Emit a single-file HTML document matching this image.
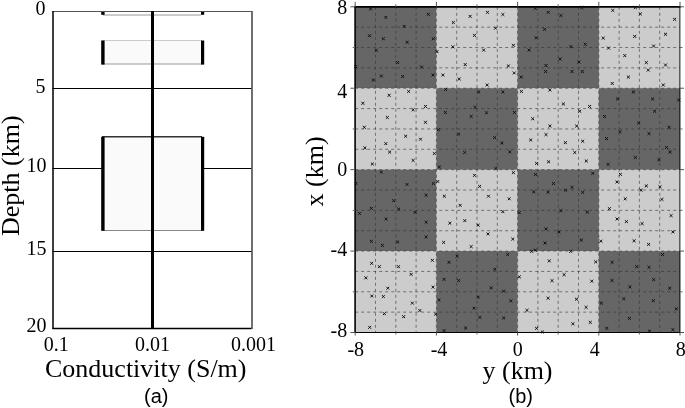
<!DOCTYPE html>
<html><head><meta charset="utf-8"><style>
html,body{margin:0;padding:0;background:#fff;width:685px;height:408px;overflow:hidden}
svg{display:block;will-change:transform}
.s20{font-family:"Liberation Serif",serif;font-size:20px;fill:#000}
.s26{font-family:"Liberation Serif",serif;font-size:26px;fill:#000}
.ss20{font-family:"Liberation Sans",sans-serif;font-size:20px;fill:#000}
</style></head><body>
<svg width="685" height="408" viewBox="0 0 685 408">
<line x1="52.5" y1="88.5" x2="251.5" y2="88.5" stroke="#000" stroke-width="1"/>
<line x1="52.5" y1="168.5" x2="251.5" y2="168.5" stroke="#000" stroke-width="1"/>
<line x1="52.5" y1="251.5" x2="251.5" y2="251.5" stroke="#000" stroke-width="1"/>
<line x1="103" y1="14.9" x2="201" y2="14.9" stroke="#bbb" stroke-width="1.5"/>
<rect x="102" y="40.5" width="100" height="23.5" fill="#fafafa" stroke="none"/>
<line x1="102" y1="40.5" x2="202" y2="40.5" stroke="#ccc" stroke-width="1"/>
<line x1="102" y1="64" x2="202" y2="64" stroke="#999" stroke-width="1"/>
<rect x="102" y="136.5" width="100" height="94" fill="#fafafa" stroke="none"/>
<line x1="102" y1="136.8" x2="202" y2="136.8" stroke="#333" stroke-width="1.5"/>
<line x1="102" y1="230.5" x2="202" y2="230.5" stroke="#888" stroke-width="1"/>
<rect x="101.2" y="11" width="3.4" height="3.8" fill="#000"/>
<rect x="201" y="11" width="3.2" height="3.8" fill="#000"/>
<rect x="101.2" y="40.5" width="3.4" height="24.1" fill="#000"/>
<rect x="201" y="40.5" width="3.2" height="24.1" fill="#000"/>
<rect x="101.2" y="136.8" width="3.4" height="94.0" fill="#000"/>
<rect x="201" y="136.8" width="3.2" height="94.0" fill="#000"/>
<line x1="52.5" y1="11.5" x2="251.5" y2="11.5" stroke="#555" stroke-width="1.1"/>
<line x1="52.5" y1="328.5" x2="251.5" y2="328.5" stroke="#000" stroke-width="1.3"/>
<line x1="53.0" y1="11.0" x2="53.0" y2="329.0" stroke="#000" stroke-width="1.5"/>
<line x1="252" y1="11.0" x2="252" y2="329.0" stroke="#333" stroke-width="1.4"/>
<rect x="151" y="11" width="3" height="318" fill="#000"/>
<text x="45.5" y="15.4" text-anchor="end" class="s20">0</text>
<text x="45.5" y="93" text-anchor="end" class="s20">5</text>
<text x="46.5" y="172" text-anchor="end" class="s20">10</text>
<text x="46.5" y="255" text-anchor="end" class="s20">15</text>
<text x="46.5" y="331.5" text-anchor="end" class="s20">20</text>
<text x="56.3" y="350.5" text-anchor="middle" class="s20">0.1</text>
<text x="152.4" y="350.5" text-anchor="middle" class="s20">0.01</text>
<text x="253.6" y="350.5" text-anchor="middle" class="s20">0.001</text>
<text x="45" y="377" class="s26">Conductivity (S/m)</text>
<text x="156.3" y="402.6" text-anchor="middle" class="ss20">(a)</text>
<text transform="translate(18.9,236) rotate(-90)" class="s26">Depth (km)</text>
<rect x="355.20" y="6.80" width="81.50" height="81.72" fill="#666"/>
<rect x="436.40" y="6.80" width="81.50" height="81.72" fill="#ccc"/>
<rect x="517.60" y="6.80" width="81.50" height="81.72" fill="#666"/>
<rect x="598.80" y="6.80" width="81.50" height="81.72" fill="#ccc"/>
<rect x="355.20" y="88.22" width="81.50" height="81.72" fill="#ccc"/>
<rect x="436.40" y="88.22" width="81.50" height="81.72" fill="#666"/>
<rect x="517.60" y="88.22" width="81.50" height="81.72" fill="#ccc"/>
<rect x="598.80" y="88.22" width="81.50" height="81.72" fill="#666"/>
<rect x="355.20" y="169.65" width="81.50" height="81.72" fill="#666"/>
<rect x="436.40" y="169.65" width="81.50" height="81.72" fill="#ccc"/>
<rect x="517.60" y="169.65" width="81.50" height="81.72" fill="#666"/>
<rect x="598.80" y="169.65" width="81.50" height="81.72" fill="#ccc"/>
<rect x="355.20" y="251.07" width="81.50" height="81.72" fill="#ccc"/>
<rect x="436.40" y="251.07" width="81.50" height="81.72" fill="#666"/>
<rect x="517.60" y="251.07" width="81.50" height="81.72" fill="#ccc"/>
<rect x="598.80" y="251.07" width="81.50" height="81.72" fill="#666"/>
<line x1="375.50" y1="6.8" x2="375.50" y2="332.5" stroke="#333" stroke-opacity="0.6" stroke-width="1" stroke-dasharray="3,3"/>
<line x1="355.2" y1="27.16" x2="680" y2="27.16" stroke="#333" stroke-opacity="0.6" stroke-width="1" stroke-dasharray="3,3"/>
<line x1="395.80" y1="6.8" x2="395.80" y2="332.5" stroke="#333" stroke-opacity="0.6" stroke-width="1" stroke-dasharray="3,3"/>
<line x1="355.2" y1="47.51" x2="680" y2="47.51" stroke="#333" stroke-opacity="0.6" stroke-width="1" stroke-dasharray="3,3"/>
<line x1="416.10" y1="6.8" x2="416.10" y2="332.5" stroke="#333" stroke-opacity="0.6" stroke-width="1" stroke-dasharray="3,3"/>
<line x1="355.2" y1="67.87" x2="680" y2="67.87" stroke="#333" stroke-opacity="0.6" stroke-width="1" stroke-dasharray="3,3"/>
<line x1="436.40" y1="6.8" x2="436.40" y2="332.5" stroke="#333" stroke-opacity="0.6" stroke-width="1" stroke-dasharray="3,3"/>
<line x1="355.2" y1="88.22" x2="680" y2="88.22" stroke="#333" stroke-opacity="0.6" stroke-width="1" stroke-dasharray="3,3"/>
<line x1="456.70" y1="6.8" x2="456.70" y2="332.5" stroke="#333" stroke-opacity="0.6" stroke-width="1" stroke-dasharray="3,3"/>
<line x1="355.2" y1="108.58" x2="680" y2="108.58" stroke="#333" stroke-opacity="0.6" stroke-width="1" stroke-dasharray="3,3"/>
<line x1="477.00" y1="6.8" x2="477.00" y2="332.5" stroke="#333" stroke-opacity="0.6" stroke-width="1" stroke-dasharray="3,3"/>
<line x1="355.2" y1="128.94" x2="680" y2="128.94" stroke="#333" stroke-opacity="0.6" stroke-width="1" stroke-dasharray="3,3"/>
<line x1="497.30" y1="6.8" x2="497.30" y2="332.5" stroke="#333" stroke-opacity="0.6" stroke-width="1" stroke-dasharray="3,3"/>
<line x1="355.2" y1="149.29" x2="680" y2="149.29" stroke="#333" stroke-opacity="0.6" stroke-width="1" stroke-dasharray="3,3"/>
<line x1="517.60" y1="6.8" x2="517.60" y2="332.5" stroke="#333" stroke-opacity="0.6" stroke-width="1" stroke-dasharray="3,3"/>
<line x1="355.2" y1="169.65" x2="680" y2="169.65" stroke="#333" stroke-opacity="0.6" stroke-width="1" stroke-dasharray="3,3"/>
<line x1="537.90" y1="6.8" x2="537.90" y2="332.5" stroke="#333" stroke-opacity="0.6" stroke-width="1" stroke-dasharray="3,3"/>
<line x1="355.2" y1="190.01" x2="680" y2="190.01" stroke="#333" stroke-opacity="0.6" stroke-width="1" stroke-dasharray="3,3"/>
<line x1="558.20" y1="6.8" x2="558.20" y2="332.5" stroke="#333" stroke-opacity="0.6" stroke-width="1" stroke-dasharray="3,3"/>
<line x1="355.2" y1="210.36" x2="680" y2="210.36" stroke="#333" stroke-opacity="0.6" stroke-width="1" stroke-dasharray="3,3"/>
<line x1="578.50" y1="6.8" x2="578.50" y2="332.5" stroke="#333" stroke-opacity="0.6" stroke-width="1" stroke-dasharray="3,3"/>
<line x1="355.2" y1="230.72" x2="680" y2="230.72" stroke="#333" stroke-opacity="0.6" stroke-width="1" stroke-dasharray="3,3"/>
<line x1="598.80" y1="6.8" x2="598.80" y2="332.5" stroke="#333" stroke-opacity="0.6" stroke-width="1" stroke-dasharray="3,3"/>
<line x1="355.2" y1="251.07" x2="680" y2="251.07" stroke="#333" stroke-opacity="0.6" stroke-width="1" stroke-dasharray="3,3"/>
<line x1="619.10" y1="6.8" x2="619.10" y2="332.5" stroke="#333" stroke-opacity="0.6" stroke-width="1" stroke-dasharray="3,3"/>
<line x1="355.2" y1="271.43" x2="680" y2="271.43" stroke="#333" stroke-opacity="0.6" stroke-width="1" stroke-dasharray="3,3"/>
<line x1="639.40" y1="6.8" x2="639.40" y2="332.5" stroke="#333" stroke-opacity="0.6" stroke-width="1" stroke-dasharray="3,3"/>
<line x1="355.2" y1="291.79" x2="680" y2="291.79" stroke="#333" stroke-opacity="0.6" stroke-width="1" stroke-dasharray="3,3"/>
<line x1="659.70" y1="6.8" x2="659.70" y2="332.5" stroke="#333" stroke-opacity="0.6" stroke-width="1" stroke-dasharray="3,3"/>
<line x1="355.2" y1="312.14" x2="680" y2="312.14" stroke="#333" stroke-opacity="0.6" stroke-width="1" stroke-dasharray="3,3"/>
<line x1="354.4" y1="6.9" x2="680.6" y2="6.9" stroke="#000" stroke-width="1.6"/>
<line x1="354.4" y1="332.5" x2="680.6" y2="332.5" stroke="#000" stroke-width="1.2"/>
<line x1="355.1" y1="6.1" x2="355.1" y2="333.1" stroke="#000" stroke-width="1.6"/>
<line x1="679.8" y1="6.1" x2="679.8" y2="333.1" stroke="#000" stroke-opacity="0.65" stroke-width="1.3"/>
<line x1="355.20" y1="1.7999999999999998" x2="355.20" y2="6.8" stroke="#555" stroke-width="1"/>
<line x1="355.20" y1="332.5" x2="355.20" y2="335.5" stroke="#555" stroke-width="1"/>
<line x1="350.4" y1="6.80" x2="355.2" y2="6.80" stroke="#555" stroke-width="1"/>
<line x1="680" y1="6.80" x2="684" y2="6.80" stroke="#555" stroke-width="1"/>
<line x1="436.40" y1="1.7999999999999998" x2="436.40" y2="6.8" stroke="#555" stroke-width="1"/>
<line x1="436.40" y1="332.5" x2="436.40" y2="335.5" stroke="#555" stroke-width="1"/>
<line x1="350.4" y1="88.22" x2="355.2" y2="88.22" stroke="#555" stroke-width="1"/>
<line x1="680" y1="88.22" x2="684" y2="88.22" stroke="#555" stroke-width="1"/>
<line x1="517.60" y1="1.7999999999999998" x2="517.60" y2="6.8" stroke="#555" stroke-width="1"/>
<line x1="517.60" y1="332.5" x2="517.60" y2="335.5" stroke="#555" stroke-width="1"/>
<line x1="350.4" y1="169.65" x2="355.2" y2="169.65" stroke="#555" stroke-width="1"/>
<line x1="680" y1="169.65" x2="684" y2="169.65" stroke="#555" stroke-width="1"/>
<line x1="598.80" y1="1.7999999999999998" x2="598.80" y2="6.8" stroke="#555" stroke-width="1"/>
<line x1="598.80" y1="332.5" x2="598.80" y2="335.5" stroke="#555" stroke-width="1"/>
<line x1="350.4" y1="251.07" x2="355.2" y2="251.07" stroke="#555" stroke-width="1"/>
<line x1="680" y1="251.07" x2="684" y2="251.07" stroke="#555" stroke-width="1"/>
<line x1="680.00" y1="1.7999999999999998" x2="680.00" y2="6.8" stroke="#555" stroke-width="1"/>
<line x1="680.00" y1="332.5" x2="680.00" y2="335.5" stroke="#555" stroke-width="1"/>
<line x1="350.4" y1="332.50" x2="355.2" y2="332.50" stroke="#555" stroke-width="1"/>
<line x1="680" y1="332.50" x2="684" y2="332.50" stroke="#555" stroke-width="1"/>
<line x1="395.80" y1="4.3" x2="395.80" y2="6.8" stroke="#666" stroke-width="1"/>
<line x1="395.80" y1="332.5" x2="395.80" y2="334.5" stroke="#666" stroke-width="1"/>
<line x1="352.7" y1="47.51" x2="355.2" y2="47.51" stroke="#666" stroke-width="1"/>
<line x1="680" y1="47.51" x2="682.5" y2="47.51" stroke="#666" stroke-width="1"/>
<line x1="477.00" y1="4.3" x2="477.00" y2="6.8" stroke="#666" stroke-width="1"/>
<line x1="477.00" y1="332.5" x2="477.00" y2="334.5" stroke="#666" stroke-width="1"/>
<line x1="352.7" y1="128.94" x2="355.2" y2="128.94" stroke="#666" stroke-width="1"/>
<line x1="680" y1="128.94" x2="682.5" y2="128.94" stroke="#666" stroke-width="1"/>
<line x1="558.20" y1="4.3" x2="558.20" y2="6.8" stroke="#666" stroke-width="1"/>
<line x1="558.20" y1="332.5" x2="558.20" y2="334.5" stroke="#666" stroke-width="1"/>
<line x1="352.7" y1="210.36" x2="355.2" y2="210.36" stroke="#666" stroke-width="1"/>
<line x1="680" y1="210.36" x2="682.5" y2="210.36" stroke="#666" stroke-width="1"/>
<line x1="639.40" y1="4.3" x2="639.40" y2="6.8" stroke="#666" stroke-width="1"/>
<line x1="639.40" y1="332.5" x2="639.40" y2="334.5" stroke="#666" stroke-width="1"/>
<line x1="352.7" y1="291.79" x2="355.2" y2="291.79" stroke="#666" stroke-width="1"/>
<line x1="680" y1="291.79" x2="682.5" y2="291.79" stroke="#666" stroke-width="1"/>
<path d="M369.1 7.5L371.9 10.4M369.1 10.4L371.9 7.5" stroke="#111" stroke-width="1.0"/>
<path d="M384.4 15.9L387.2 18.8M384.4 18.8L387.2 15.9" stroke="#111" stroke-width="1.0"/>
<path d="M426.9 12.9L429.8 15.8M426.9 15.8L429.8 12.9" stroke="#111" stroke-width="1.0"/>
<path d="M402.8 24.9L405.6 27.8M402.8 27.8L405.6 24.9" stroke="#111" stroke-width="1.0"/>
<path d="M368.1 34.3L370.9 37.2M368.1 37.2L370.9 34.3" stroke="#111" stroke-width="1.0"/>
<path d="M381.9 37.2L384.8 40.2M381.9 40.2L384.8 37.2" stroke="#111" stroke-width="1.0"/>
<path d="M405.8 40.8L408.6 43.8M405.8 43.8L408.6 40.8" stroke="#111" stroke-width="1.0"/>
<path d="M431.9 37.2L434.8 40.2M431.9 40.2L434.8 37.2" stroke="#111" stroke-width="1.0"/>
<path d="M374.8 48.8L377.6 51.8M374.8 51.8L377.6 48.8" stroke="#111" stroke-width="1.0"/>
<path d="M396.2 61.1L399.1 64.0M396.2 64.0L399.1 61.1" stroke="#111" stroke-width="1.0"/>
<path d="M420.1 65.6L422.9 68.5M420.1 68.5L422.9 65.6" stroke="#111" stroke-width="1.0"/>
<path d="M354.2 65.2L357.1 68.2M354.2 68.2L357.1 65.2" stroke="#111" stroke-width="1.0"/>
<path d="M379.9 74.6L382.8 77.5M379.9 77.5L382.8 74.6" stroke="#111" stroke-width="1.0"/>
<path d="M401.2 75.0L404.1 78.0M401.2 78.0L404.1 75.0" stroke="#111" stroke-width="1.0"/>
<path d="M431.6 73.5L434.4 76.4M431.6 76.4L434.4 73.5" stroke="#111" stroke-width="1.0"/>
<path d="M371.9 78.5L374.8 81.5M371.9 81.5L374.8 78.5" stroke="#111" stroke-width="1.0"/>
<path d="M451.9 21.1L454.8 23.9M451.9 23.9L454.8 21.1" stroke="#111" stroke-width="1.0"/>
<path d="M485.7 83.6L488.6 86.5M485.7 86.5L488.6 83.6" stroke="#111" stroke-width="1.0"/>
<path d="M468.7 14.9L471.6 17.8M468.7 17.8L471.6 14.9" stroke="#111" stroke-width="1.0"/>
<path d="M486.1 10.9L488.9 13.8M486.1 13.8L488.9 10.9" stroke="#111" stroke-width="1.0"/>
<path d="M473.1 33.9L475.9 36.9M473.1 36.9L475.9 33.9" stroke="#111" stroke-width="1.0"/>
<path d="M435.6 50.1L438.4 53.1M435.6 53.1L438.4 50.1" stroke="#111" stroke-width="1.0"/>
<path d="M451.4 45.4L454.3 48.4M451.4 48.4L454.3 45.4" stroke="#111" stroke-width="1.0"/>
<path d="M482.2 48.6L485.1 51.6M482.2 51.6L485.1 48.6" stroke="#111" stroke-width="1.0"/>
<path d="M463.8 63.1L466.6 66.0M463.8 66.0L466.6 63.1" stroke="#111" stroke-width="1.0"/>
<path d="M441.4 73.6L444.3 76.5M441.4 76.5L444.3 73.6" stroke="#111" stroke-width="1.0"/>
<path d="M457.8 77.5L460.6 80.5M457.8 80.5L460.6 77.5" stroke="#111" stroke-width="1.0"/>
<path d="M501.4 13.1L504.3 15.9M501.4 15.9L504.3 13.1" stroke="#111" stroke-width="1.0"/>
<path d="M494.1 26.8L496.9 29.6M494.1 29.6L496.9 26.8" stroke="#111" stroke-width="1.0"/>
<path d="M511.9 43.8L514.9 46.8M511.9 46.8L514.9 43.8" stroke="#111" stroke-width="1.0"/>
<path d="M506.9 64.5L509.8 67.4M506.9 67.4L509.8 64.5" stroke="#111" stroke-width="1.0"/>
<path d="M512.8 71.5L515.7 74.4M512.8 74.4L515.7 71.5" stroke="#111" stroke-width="1.0"/>
<path d="M533.8 7.0L536.8 9.8M533.8 9.8L536.8 7.0" stroke="#111" stroke-width="1.0"/>
<path d="M546.8 10.9L549.7 13.8M546.8 13.8L549.7 10.9" stroke="#111" stroke-width="1.0"/>
<path d="M559.4 14.1L562.4 16.9M559.4 16.9L562.4 14.1" stroke="#111" stroke-width="1.0"/>
<path d="M580.4 6.1L583.4 9.0M580.4 9.0L583.4 6.1" stroke="#111" stroke-width="1.0"/>
<path d="M543.1 27.9L546.1 30.8M543.1 30.8L546.1 27.9" stroke="#111" stroke-width="1.0"/>
<path d="M534.8 36.3L537.7 39.2M534.8 39.2L537.7 36.3" stroke="#111" stroke-width="1.0"/>
<path d="M527.6 48.6L530.6 51.6M527.6 51.6L530.6 48.6" stroke="#111" stroke-width="1.0"/>
<path d="M569.5 45.2L572.5 48.2M569.5 48.2L572.5 45.2" stroke="#111" stroke-width="1.0"/>
<path d="M583.8 42.8L586.8 45.8M583.8 45.8L586.8 42.8" stroke="#111" stroke-width="1.0"/>
<path d="M558.6 57.5L561.6 60.5M558.6 60.5L561.6 57.5" stroke="#111" stroke-width="1.0"/>
<path d="M577.4 60.5L580.4 63.5M577.4 63.5L580.4 60.5" stroke="#111" stroke-width="1.0"/>
<path d="M544.5 64.0L547.5 67.0M544.5 67.0L547.5 64.0" stroke="#111" stroke-width="1.0"/>
<path d="M544.1 70.0L547.1 73.0M544.1 73.0L547.1 70.0" stroke="#111" stroke-width="1.0"/>
<path d="M570.5 70.0L573.5 73.0M570.5 73.0L573.5 70.0" stroke="#111" stroke-width="1.0"/>
<path d="M580.8 70.0L583.8 73.0M580.8 73.0L583.8 70.0" stroke="#111" stroke-width="1.0"/>
<path d="M519.8 75.6L522.7 78.5M519.8 78.5L522.7 75.6" stroke="#111" stroke-width="1.0"/>
<path d="M611.3 9.0L614.2 11.8M611.3 11.8L614.2 9.0" stroke="#111" stroke-width="1.0"/>
<path d="M601.8 36.6L604.7 39.6M601.8 39.6L604.7 36.6" stroke="#111" stroke-width="1.0"/>
<path d="M607.0 46.6L610.0 49.6M607.0 49.6L610.0 46.6" stroke="#111" stroke-width="1.0"/>
<path d="M623.3 54.1L626.2 57.1M623.3 57.1L626.2 54.1" stroke="#111" stroke-width="1.0"/>
<path d="M610.8 82.0L613.7 84.9M610.8 84.9L613.7 82.0" stroke="#111" stroke-width="1.0"/>
<path d="M633.8 6.1L636.8 9.0M633.8 9.0L636.8 6.1" stroke="#111" stroke-width="1.0"/>
<path d="M638.8 12.5L641.8 15.3M638.8 15.3L641.8 12.5" stroke="#111" stroke-width="1.0"/>
<path d="M673.1 17.9L676.1 20.8M673.1 20.8L676.1 17.9" stroke="#111" stroke-width="1.0"/>
<path d="M633.2 34.9L636.2 37.9M633.2 37.9L636.2 34.9" stroke="#111" stroke-width="1.0"/>
<path d="M664.0 32.8L667.0 35.7M664.0 35.7L667.0 32.8" stroke="#111" stroke-width="1.0"/>
<path d="M652.1 44.6L655.1 47.6M652.1 47.6L655.1 44.6" stroke="#111" stroke-width="1.0"/>
<path d="M644.8 61.1L647.8 64.0M644.8 64.0L647.8 61.1" stroke="#111" stroke-width="1.0"/>
<path d="M646.8 68.6L649.7 71.5M646.8 71.5L649.7 68.6" stroke="#111" stroke-width="1.0"/>
<path d="M664.0 63.5L667.0 66.5M664.0 66.5L667.0 63.5" stroke="#111" stroke-width="1.0"/>
<path d="M626.9 75.6L629.9 78.5M626.9 78.5L629.9 75.6" stroke="#111" stroke-width="1.0"/>
<path d="M661.8 83.5L664.8 86.5M661.8 86.5L664.8 83.5" stroke="#111" stroke-width="1.0"/>
<path d="M387.7 93.8L390.6 96.8M387.7 96.8L390.6 93.8" stroke="#111" stroke-width="1.0"/>
<path d="M407.2 90.0L410.1 92.9M407.2 92.9L410.1 90.0" stroke="#111" stroke-width="1.0"/>
<path d="M361.4 101.8L364.3 104.8M361.4 104.8L364.3 101.8" stroke="#111" stroke-width="1.0"/>
<path d="M411.7 108.3L414.6 111.2M411.7 111.2L414.6 108.3" stroke="#111" stroke-width="1.0"/>
<path d="M424.1 105.0L426.9 107.9M424.1 107.9L426.9 105.0" stroke="#111" stroke-width="1.0"/>
<path d="M385.9 116.0L388.8 118.9M385.9 118.9L388.8 116.0" stroke="#111" stroke-width="1.0"/>
<path d="M424.1 120.8L426.9 123.8M424.1 123.8L426.9 120.8" stroke="#111" stroke-width="1.0"/>
<path d="M362.9 125.8L365.8 128.8M362.9 128.8L365.8 125.8" stroke="#111" stroke-width="1.0"/>
<path d="M404.2 134.8L407.1 137.6M404.2 137.6L407.1 134.8" stroke="#111" stroke-width="1.0"/>
<path d="M419.1 137.8L421.9 140.6M419.1 140.6L421.9 137.8" stroke="#111" stroke-width="1.0"/>
<path d="M384.4 142.2L387.2 145.0M384.4 145.0L387.2 142.2" stroke="#111" stroke-width="1.0"/>
<path d="M363.4 146.5L366.3 149.3M363.4 149.3L366.3 146.5" stroke="#111" stroke-width="1.0"/>
<path d="M388.2 150.7L391.1 153.5M388.2 153.5L391.1 150.7" stroke="#111" stroke-width="1.0"/>
<path d="M432.9 152.1L435.8 154.9M432.9 154.9L435.8 152.1" stroke="#111" stroke-width="1.0"/>
<path d="M411.7 159.0L414.6 161.8M411.7 161.8L414.6 159.0" stroke="#111" stroke-width="1.0"/>
<path d="M370.9 162.6L373.8 165.4M370.9 165.4L373.8 162.6" stroke="#111" stroke-width="1.0"/>
<path d="M444.2 88.0L447.1 90.9M444.2 90.9L447.1 88.0" stroke="#111" stroke-width="1.0"/>
<path d="M477.2 90.5L480.1 93.4M477.2 93.4L480.1 90.5" stroke="#111" stroke-width="1.0"/>
<path d="M473.7 106.0L476.6 108.9M473.7 108.9L476.6 106.0" stroke="#111" stroke-width="1.0"/>
<path d="M443.9 111.0L446.8 113.9M443.9 113.9L446.8 111.0" stroke="#111" stroke-width="1.0"/>
<path d="M469.7 115.0L472.6 117.9M469.7 117.9L472.6 115.0" stroke="#111" stroke-width="1.0"/>
<path d="M485.1 111.3L487.9 114.2M485.1 114.2L487.9 111.3" stroke="#111" stroke-width="1.0"/>
<path d="M436.9 128.2L439.8 131.1M436.9 131.1L439.8 128.2" stroke="#111" stroke-width="1.0"/>
<path d="M457.2 132.8L460.1 135.6M457.2 135.6L460.1 132.8" stroke="#111" stroke-width="1.0"/>
<path d="M463.2 151.1L466.1 153.9M463.2 153.9L466.1 151.1" stroke="#111" stroke-width="1.0"/>
<path d="M501.4 90.5L504.3 93.4M501.4 93.4L504.3 90.5" stroke="#111" stroke-width="1.0"/>
<path d="M512.9 111.0L515.9 113.9M512.9 113.9L515.9 111.0" stroke="#111" stroke-width="1.0"/>
<path d="M493.2 136.2L496.1 139.0M493.2 139.0L496.1 136.2" stroke="#111" stroke-width="1.0"/>
<path d="M500.4 141.6L503.3 144.4M500.4 144.4L503.3 141.6" stroke="#111" stroke-width="1.0"/>
<path d="M508.4 150.5L511.2 153.3M508.4 153.3L511.2 150.5" stroke="#111" stroke-width="1.0"/>
<path d="M519.9 90.0L522.9 92.9M519.9 92.9L522.9 90.0" stroke="#111" stroke-width="1.0"/>
<path d="M548.4 88.5L551.4 91.5M548.4 91.5L551.4 88.5" stroke="#111" stroke-width="1.0"/>
<path d="M561.9 102.5L564.9 105.4M561.9 105.4L564.9 102.5" stroke="#111" stroke-width="1.0"/>
<path d="M588.1 105.0L591.1 107.9M588.1 107.9L591.1 105.0" stroke="#111" stroke-width="1.0"/>
<path d="M578.2 109.8L581.2 112.7M578.2 112.7L581.2 109.8" stroke="#111" stroke-width="1.0"/>
<path d="M531.2 117.3L534.2 120.2M531.2 120.2L534.2 117.3" stroke="#111" stroke-width="1.0"/>
<path d="M548.4 124.6L551.4 127.5M548.4 127.5L551.4 124.6" stroke="#111" stroke-width="1.0"/>
<path d="M575.2 124.6L578.2 127.5M575.2 127.5L578.2 124.6" stroke="#111" stroke-width="1.0"/>
<path d="M544.5 133.2L547.5 136.0M544.5 136.0L547.5 133.2" stroke="#111" stroke-width="1.0"/>
<path d="M529.2 138.6L532.2 141.4M529.2 141.4L532.2 138.6" stroke="#111" stroke-width="1.0"/>
<path d="M563.9 141.2L566.9 144.0M563.9 144.0L566.9 141.2" stroke="#111" stroke-width="1.0"/>
<path d="M581.2 139.8L584.2 142.6M581.2 142.6L584.2 139.8" stroke="#111" stroke-width="1.0"/>
<path d="M573.3 151.1L576.2 153.9M573.3 153.9L576.2 151.1" stroke="#111" stroke-width="1.0"/>
<path d="M535.1 162.0L538.1 164.8M535.1 164.8L538.1 162.0" stroke="#111" stroke-width="1.0"/>
<path d="M547.1 160.4L550.1 163.2M547.1 163.2L550.1 160.4" stroke="#111" stroke-width="1.0"/>
<path d="M584.8 159.6L587.8 162.4M584.8 162.4L587.8 159.6" stroke="#111" stroke-width="1.0"/>
<path d="M616.1 97.5L619.1 100.4M616.1 100.4L619.1 97.5" stroke="#111" stroke-width="1.0"/>
<path d="M603.0 115.0L606.0 117.9M603.0 117.9L606.0 115.0" stroke="#111" stroke-width="1.0"/>
<path d="M618.5 130.2L621.5 133.1M618.5 133.1L621.5 130.2" stroke="#111" stroke-width="1.0"/>
<path d="M605.0 137.2L608.0 140.0M605.0 140.0L608.0 137.2" stroke="#111" stroke-width="1.0"/>
<path d="M606.6 163.0L609.6 165.8M606.6 165.8L609.6 163.0" stroke="#111" stroke-width="1.0"/>
<path d="M631.9 90.5L634.9 93.4M631.9 93.4L634.9 90.5" stroke="#111" stroke-width="1.0"/>
<path d="M651.1 97.5L654.1 100.4M651.1 100.4L654.1 97.5" stroke="#111" stroke-width="1.0"/>
<path d="M677.3 98.5L680.2 101.4M677.3 101.4L680.2 98.5" stroke="#111" stroke-width="1.0"/>
<path d="M653.1 109.8L656.1 112.7M653.1 112.7L656.1 109.8" stroke="#111" stroke-width="1.0"/>
<path d="M637.2 121.6L640.2 124.5M637.2 124.5L640.2 121.6" stroke="#111" stroke-width="1.0"/>
<path d="M667.6 125.8L670.6 128.8M667.6 128.8L670.6 125.8" stroke="#111" stroke-width="1.0"/>
<path d="M647.5 132.2L650.5 135.0M647.5 135.0L650.5 132.2" stroke="#111" stroke-width="1.0"/>
<path d="M665.0 146.1L668.0 148.9M665.0 148.9L668.0 146.1" stroke="#111" stroke-width="1.0"/>
<path d="M668.6 150.5L671.6 153.3M668.6 153.3L671.6 150.5" stroke="#111" stroke-width="1.0"/>
<path d="M633.8 156.1L636.8 158.9M633.8 158.9L636.8 156.1" stroke="#111" stroke-width="1.0"/>
<path d="M657.5 158.4L660.5 161.2M657.5 161.2L660.5 158.4" stroke="#111" stroke-width="1.0"/>
<path d="M379.9 170.6L382.8 173.4M379.9 173.4L382.8 170.6" stroke="#111" stroke-width="1.0"/>
<path d="M354.6 182.1L357.4 184.9M354.6 184.9L357.4 182.1" stroke="#111" stroke-width="1.0"/>
<path d="M405.6 183.1L408.4 185.9M405.6 185.9L408.4 183.1" stroke="#111" stroke-width="1.0"/>
<path d="M431.9 182.1L434.8 184.9M431.9 184.9L434.8 182.1" stroke="#111" stroke-width="1.0"/>
<path d="M424.7 193.8L427.6 196.6M424.7 196.6L427.6 193.8" stroke="#111" stroke-width="1.0"/>
<path d="M392.2 199.2L395.1 202.1M392.2 202.1L395.1 199.2" stroke="#111" stroke-width="1.0"/>
<path d="M369.9 206.9L372.8 209.8M369.9 209.8L372.8 206.9" stroke="#111" stroke-width="1.0"/>
<path d="M397.2 207.7L400.1 210.5M397.2 210.5L400.1 207.7" stroke="#111" stroke-width="1.0"/>
<path d="M358.1 211.9L360.9 214.8M358.1 214.8L360.9 211.9" stroke="#111" stroke-width="1.0"/>
<path d="M413.7 210.9L416.6 213.8M413.7 213.8L416.6 210.9" stroke="#111" stroke-width="1.0"/>
<path d="M384.7 217.6L387.6 220.4M384.7 220.4L387.6 217.6" stroke="#111" stroke-width="1.0"/>
<path d="M424.7 220.8L427.6 223.6M424.7 223.6L427.6 220.8" stroke="#111" stroke-width="1.0"/>
<path d="M424.7 235.5L427.6 238.3M424.7 238.3L427.6 235.5" stroke="#111" stroke-width="1.0"/>
<path d="M369.9 240.0L372.8 242.8M369.9 242.8L372.8 240.0" stroke="#111" stroke-width="1.0"/>
<path d="M396.2 240.6L399.1 243.4M396.2 243.4L399.1 240.6" stroke="#111" stroke-width="1.0"/>
<path d="M380.9 244.0L383.8 246.8M380.9 246.8L383.8 244.0" stroke="#111" stroke-width="1.0"/>
<path d="M437.9 165.6L440.8 168.4M437.9 168.4L440.8 165.6" stroke="#111" stroke-width="1.0"/>
<path d="M436.4 180.1L439.2 182.9M436.4 182.9L439.2 180.1" stroke="#111" stroke-width="1.0"/>
<path d="M473.1 173.9L475.9 176.8M473.1 176.8L475.9 173.9" stroke="#111" stroke-width="1.0"/>
<path d="M478.2 185.0L481.1 187.8M478.2 187.8L481.1 185.0" stroke="#111" stroke-width="1.0"/>
<path d="M442.9 194.8L445.8 197.6M442.9 197.6L445.8 194.8" stroke="#111" stroke-width="1.0"/>
<path d="M487.1 194.8L489.9 197.6M487.1 197.6L489.9 194.8" stroke="#111" stroke-width="1.0"/>
<path d="M458.8 203.9L461.6 206.8M458.8 206.8L461.6 203.9" stroke="#111" stroke-width="1.0"/>
<path d="M448.4 221.8L451.3 224.6M448.4 224.6L451.3 221.8" stroke="#111" stroke-width="1.0"/>
<path d="M463.4 219.2L466.2 222.0M463.4 222.0L466.2 219.2" stroke="#111" stroke-width="1.0"/>
<path d="M476.7 223.8L479.6 226.6M476.7 226.6L479.6 223.8" stroke="#111" stroke-width="1.0"/>
<path d="M486.6 232.5L489.4 235.3M486.6 235.3L489.4 232.5" stroke="#111" stroke-width="1.0"/>
<path d="M442.2 241.0L445.1 243.8M442.2 243.8L445.1 241.0" stroke="#111" stroke-width="1.0"/>
<path d="M469.7 245.2L472.6 248.0M469.7 248.0L472.6 245.2" stroke="#111" stroke-width="1.0"/>
<path d="M494.4 167.0L497.3 169.8M494.4 169.8L497.3 167.0" stroke="#111" stroke-width="1.0"/>
<path d="M511.9 171.2L514.9 174.0M511.9 174.0L514.9 171.2" stroke="#111" stroke-width="1.0"/>
<path d="M507.8 197.4L510.6 200.2M507.8 200.2L510.6 197.4" stroke="#111" stroke-width="1.0"/>
<path d="M501.4 210.2L504.3 213.1M501.4 213.1L504.3 210.2" stroke="#111" stroke-width="1.0"/>
<path d="M511.3 237.7L514.2 240.5M511.3 240.5L514.2 237.7" stroke="#111" stroke-width="1.0"/>
<path d="M534.1 173.1L537.1 175.9M534.1 175.9L537.1 173.1" stroke="#111" stroke-width="1.0"/>
<path d="M552.0 182.1L555.0 184.9M552.0 184.9L555.0 182.1" stroke="#111" stroke-width="1.0"/>
<path d="M591.3 171.9L594.2 174.8M591.3 174.8L594.2 171.9" stroke="#111" stroke-width="1.0"/>
<path d="M532.2 190.4L535.2 193.2M532.2 193.2L535.2 190.4" stroke="#111" stroke-width="1.0"/>
<path d="M546.5 190.8L549.5 193.6M546.5 193.6L549.5 190.8" stroke="#111" stroke-width="1.0"/>
<path d="M563.9 188.8L566.9 191.6M563.9 191.6L566.9 188.8" stroke="#111" stroke-width="1.0"/>
<path d="M570.5 186.0L573.5 188.8M570.5 188.8L573.5 186.0" stroke="#111" stroke-width="1.0"/>
<path d="M581.2 191.0L584.2 193.8M581.2 193.8L584.2 191.0" stroke="#111" stroke-width="1.0"/>
<path d="M517.8 211.2L520.7 214.1M517.8 214.1L520.7 211.2" stroke="#111" stroke-width="1.0"/>
<path d="M559.4 209.2L562.4 212.1M559.4 212.1L562.4 209.2" stroke="#111" stroke-width="1.0"/>
<path d="M585.8 210.7L588.8 213.5M585.8 213.5L588.8 210.7" stroke="#111" stroke-width="1.0"/>
<path d="M544.5 227.5L547.5 230.3M544.5 230.3L547.5 227.5" stroke="#111" stroke-width="1.0"/>
<path d="M557.4 230.7L560.4 233.5M557.4 233.5L560.4 230.7" stroke="#111" stroke-width="1.0"/>
<path d="M543.5 241.6L546.5 244.4M543.5 244.4L546.5 241.6" stroke="#111" stroke-width="1.0"/>
<path d="M579.8 238.7L582.8 241.5M579.8 241.5L582.8 238.7" stroke="#111" stroke-width="1.0"/>
<path d="M618.9 172.9L621.9 175.8M618.9 175.8L621.9 172.9" stroke="#111" stroke-width="1.0"/>
<path d="M615.5 180.5L618.5 183.3M615.5 183.3L618.5 180.5" stroke="#111" stroke-width="1.0"/>
<path d="M607.9 207.2L610.9 210.1M607.9 210.1L610.9 207.2" stroke="#111" stroke-width="1.0"/>
<path d="M615.6 217.6L618.6 220.4M615.6 220.4L618.6 217.6" stroke="#111" stroke-width="1.0"/>
<path d="M599.4 239.8L602.4 242.6M599.4 242.6L602.4 239.8" stroke="#111" stroke-width="1.0"/>
<path d="M644.8 184.5L647.8 187.3M644.8 187.3L647.8 184.5" stroke="#111" stroke-width="1.0"/>
<path d="M639.6 188.8L642.6 191.6M639.6 191.6L642.6 188.8" stroke="#111" stroke-width="1.0"/>
<path d="M658.5 185.4L661.5 188.2M658.5 188.2L661.5 185.4" stroke="#111" stroke-width="1.0"/>
<path d="M623.8 197.4L626.7 200.2M623.8 200.2L626.7 197.4" stroke="#111" stroke-width="1.0"/>
<path d="M660.4 198.0L663.4 200.8M660.4 200.8L663.4 198.0" stroke="#111" stroke-width="1.0"/>
<path d="M624.9 220.2L627.9 223.0M624.9 223.0L627.9 220.2" stroke="#111" stroke-width="1.0"/>
<path d="M640.6 222.2L643.6 225.0M640.6 225.0L643.6 222.2" stroke="#111" stroke-width="1.0"/>
<path d="M669.6 214.2L672.6 217.0M669.6 217.0L672.6 214.2" stroke="#111" stroke-width="1.0"/>
<path d="M671.4 230.5L674.4 233.3M671.4 233.3L674.4 230.5" stroke="#111" stroke-width="1.0"/>
<path d="M632.6 239.4L635.6 242.2M632.6 242.2L635.6 239.4" stroke="#111" stroke-width="1.0"/>
<path d="M647.1 243.0L650.1 245.8M647.1 245.8L650.1 243.0" stroke="#111" stroke-width="1.0"/>
<path d="M370.2 261.9L373.1 264.8M370.2 264.8L373.1 261.9" stroke="#111" stroke-width="1.0"/>
<path d="M377.9 265.2L380.8 268.1M377.9 268.1L380.8 265.2" stroke="#111" stroke-width="1.0"/>
<path d="M397.1 265.2L399.9 268.1M397.1 268.1L399.9 265.2" stroke="#111" stroke-width="1.0"/>
<path d="M430.9 258.9L433.8 261.8M430.9 261.8L433.8 258.9" stroke="#111" stroke-width="1.0"/>
<path d="M409.7 272.9L412.6 275.8M409.7 275.8L412.6 272.9" stroke="#111" stroke-width="1.0"/>
<path d="M364.4 276.4L367.3 279.3M364.4 279.3L367.3 276.4" stroke="#111" stroke-width="1.0"/>
<path d="M386.4 286.8L389.2 289.6M386.4 289.6L389.2 286.8" stroke="#111" stroke-width="1.0"/>
<path d="M431.6 285.7L434.4 288.6M431.6 288.6L434.4 285.7" stroke="#111" stroke-width="1.0"/>
<path d="M370.4 294.6L373.2 297.4M370.4 297.4L373.2 294.6" stroke="#111" stroke-width="1.0"/>
<path d="M381.9 295.1L384.8 297.9M381.9 297.9L384.8 295.1" stroke="#111" stroke-width="1.0"/>
<path d="M410.9 301.7L413.8 304.6M410.9 304.6L413.8 301.7" stroke="#111" stroke-width="1.0"/>
<path d="M418.4 309.1L421.2 311.9M418.4 311.9L421.2 309.1" stroke="#111" stroke-width="1.0"/>
<path d="M382.9 312.2L385.8 315.1M382.9 315.1L385.8 312.2" stroke="#111" stroke-width="1.0"/>
<path d="M402.2 315.2L405.1 318.1M402.2 318.1L405.1 315.2" stroke="#111" stroke-width="1.0"/>
<path d="M434.2 312.8L437.1 315.6M434.2 315.6L437.1 312.8" stroke="#111" stroke-width="1.0"/>
<path d="M368.2 325.9L371.1 328.8M368.2 328.8L371.1 325.9" stroke="#111" stroke-width="1.0"/>
<path d="M455.7 254.8L458.6 257.6M455.7 257.6L458.6 254.8" stroke="#111" stroke-width="1.0"/>
<path d="M447.6 260.9L450.4 263.8M447.6 263.8L450.4 260.9" stroke="#111" stroke-width="1.0"/>
<path d="M442.7 277.9L445.6 280.8M442.7 280.8L445.6 277.9" stroke="#111" stroke-width="1.0"/>
<path d="M457.2 279.1L460.1 281.9M457.2 281.9L460.1 279.1" stroke="#111" stroke-width="1.0"/>
<path d="M437.6 298.4L440.4 301.3M437.6 301.3L440.4 298.4" stroke="#111" stroke-width="1.0"/>
<path d="M476.8 295.7L479.6 298.6M476.8 298.6L479.6 295.7" stroke="#111" stroke-width="1.0"/>
<path d="M472.6 306.8L475.4 309.6M472.6 309.6L475.4 306.8" stroke="#111" stroke-width="1.0"/>
<path d="M478.4 315.9L481.3 318.8M478.4 318.8L481.3 315.9" stroke="#111" stroke-width="1.0"/>
<path d="M464.2 326.6L467.1 329.4M464.2 329.4L467.1 326.6" stroke="#111" stroke-width="1.0"/>
<path d="M442.7 329.2L445.6 332.1M442.7 332.1L445.6 329.2" stroke="#111" stroke-width="1.0"/>
<path d="M506.2 253.1L509.1 255.9M506.2 255.9L509.1 253.1" stroke="#111" stroke-width="1.0"/>
<path d="M493.4 267.9L496.2 270.8M493.4 270.8L496.2 267.9" stroke="#111" stroke-width="1.0"/>
<path d="M489.8 286.4L492.6 289.3M489.8 289.3L492.6 286.4" stroke="#111" stroke-width="1.0"/>
<path d="M502.2 289.7L505.1 292.6M502.2 292.6L505.1 289.7" stroke="#111" stroke-width="1.0"/>
<path d="M509.4 299.4L512.2 302.3M509.4 302.3L512.2 299.4" stroke="#111" stroke-width="1.0"/>
<path d="M502.2 316.6L505.1 319.4M502.2 319.4L505.1 316.6" stroke="#111" stroke-width="1.0"/>
<path d="M530.2 249.9L533.2 252.8M530.2 252.8L533.2 249.9" stroke="#111" stroke-width="1.0"/>
<path d="M533.8 248.8L536.8 251.6M533.8 251.6L536.8 248.8" stroke="#111" stroke-width="1.0"/>
<path d="M569.2 249.9L572.2 252.8M569.2 252.8L572.2 249.9" stroke="#111" stroke-width="1.0"/>
<path d="M547.8 259.4L550.7 262.3M547.8 262.3L550.7 259.4" stroke="#111" stroke-width="1.0"/>
<path d="M594.2 260.4L597.2 263.3M594.2 263.3L597.2 260.4" stroke="#111" stroke-width="1.0"/>
<path d="M517.8 275.4L520.8 278.3M517.8 278.3L520.8 275.4" stroke="#111" stroke-width="1.0"/>
<path d="M562.6 273.2L565.6 276.1M562.6 276.1L565.6 273.2" stroke="#111" stroke-width="1.0"/>
<path d="M550.5 279.2L553.5 282.1M550.5 282.1L553.5 279.2" stroke="#111" stroke-width="1.0"/>
<path d="M590.3 279.7L593.2 282.6M590.3 282.6L593.2 279.7" stroke="#111" stroke-width="1.0"/>
<path d="M546.6 296.8L549.6 299.6M546.6 299.6L549.6 296.8" stroke="#111" stroke-width="1.0"/>
<path d="M575.0 297.8L578.0 300.6M575.0 300.6L578.0 297.8" stroke="#111" stroke-width="1.0"/>
<path d="M584.6 305.9L587.6 308.8M584.6 308.8L587.6 305.9" stroke="#111" stroke-width="1.0"/>
<path d="M525.5 308.9L528.5 311.8M525.5 311.8L528.5 308.9" stroke="#111" stroke-width="1.0"/>
<path d="M588.8 320.9L591.8 323.8M588.8 323.8L591.8 320.9" stroke="#111" stroke-width="1.0"/>
<path d="M571.4 322.4L574.4 325.2M571.4 325.2L574.4 322.4" stroke="#111" stroke-width="1.0"/>
<path d="M535.1 326.9L538.1 329.8M535.1 329.8L538.1 326.9" stroke="#111" stroke-width="1.0"/>
<path d="M540.9 330.6L543.9 333.4M540.9 333.4L543.9 330.6" stroke="#111" stroke-width="1.0"/>
<path d="M610.6 260.9L613.6 263.8M610.6 263.8L613.6 260.9" stroke="#111" stroke-width="1.0"/>
<path d="M610.6 279.1L613.6 281.9M610.6 281.9L613.6 279.1" stroke="#111" stroke-width="1.0"/>
<path d="M599.9 301.7L602.9 304.6M599.9 304.6L602.9 301.7" stroke="#111" stroke-width="1.0"/>
<path d="M605.3 326.9L608.2 329.8M605.3 329.8L608.2 326.9" stroke="#111" stroke-width="1.0"/>
<path d="M622.3 297.4L625.2 300.2M622.3 300.2L625.2 297.4" stroke="#111" stroke-width="1.0"/>
<path d="M661.0 253.1L664.0 255.9M661.0 255.9L664.0 253.1" stroke="#111" stroke-width="1.0"/>
<path d="M635.2 265.2L638.2 268.1M635.2 268.1L638.2 265.2" stroke="#111" stroke-width="1.0"/>
<path d="M647.5 265.9L650.5 268.8M647.5 268.8L650.5 265.9" stroke="#111" stroke-width="1.0"/>
<path d="M652.2 278.2L655.2 281.1M652.2 281.1L655.2 278.2" stroke="#111" stroke-width="1.0"/>
<path d="M628.4 285.4L631.4 288.3M628.4 288.3L631.4 285.4" stroke="#111" stroke-width="1.0"/>
<path d="M668.2 286.8L671.2 289.6M668.2 289.6L671.2 286.8" stroke="#111" stroke-width="1.0"/>
<path d="M651.8 299.2L654.8 302.1M651.8 302.1L654.8 299.2" stroke="#111" stroke-width="1.0"/>
<path d="M674.8 307.4L677.8 310.2M674.8 310.2L677.8 307.4" stroke="#111" stroke-width="1.0"/>
<path d="M627.9 316.9L630.9 319.8M627.9 319.8L630.9 316.9" stroke="#111" stroke-width="1.0"/>
<path d="M648.0 329.8L651.0 332.6M648.0 332.6L651.0 329.8" stroke="#111" stroke-width="1.0"/>
<path d="M671.4 328.2L674.4 331.1M671.4 331.1L674.4 328.2" stroke="#111" stroke-width="1.0"/>
<text x="347.2" y="14" text-anchor="end" class="s20">8</text>
<text x="347.2" y="97.5" text-anchor="end" class="s20">4</text>
<text x="347.2" y="175.7" text-anchor="end" class="s20">0</text>
<text x="347.2" y="255.7" text-anchor="end" class="s20">-4</text>
<text x="347.2" y="336.5" text-anchor="end" class="s20">-8</text>
<text x="355.8" y="355.8" text-anchor="middle" class="s20">-8</text>
<text x="439" y="355.8" text-anchor="middle" class="s20">-4</text>
<text x="517.7" y="355.8" text-anchor="middle" class="s20">0</text>
<text x="594.7" y="355.8" text-anchor="middle" class="s20">4</text>
<text x="680.8" y="355.8" text-anchor="middle" class="s20">8</text>
<text x="517.5" y="379.1" text-anchor="middle" class="s26">y (km)</text>
<text x="520.7" y="402.6" text-anchor="middle" class="ss20">(b)</text>
<text transform="translate(323,206.5) rotate(-90)" class="s26">x (km)</text>
</svg>
</body></html>
